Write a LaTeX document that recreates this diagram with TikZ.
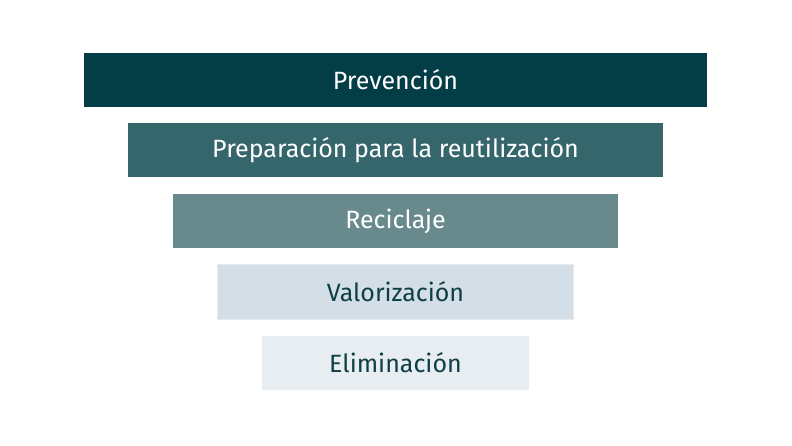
\documentclass[tikz,border=0pt]{standalone}
\usepackage{fontspec}
\setmainfont{Fira Sans}
\usepackage{tikz}

\definecolor{tealA}{HTML}{033E46}
\definecolor{tealB}{HTML}{35666B}
\definecolor{tealC}{HTML}{688A8D}
\definecolor{greyD}{HTML}{D3DEE7}
\definecolor{greyE}{HTML}{E8EDF2}
\definecolor{textdark}{HTML}{0F3F46}

\begin{document}
\begin{tikzpicture}[x=1pt,y=-1pt, % pixel grid, y down
	every node/.style={rectangle,inner sep=0pt,minimum height=54pt,font=\fontsize{25}{30}\selectfont}]
	\useasboundingbox[fill=white] (0,0) rectangle (792,446);

	\node[fill=tealA,text=white,minimum width=623.5pt] (prev) at (395.5,79.7)  {Prevención};
	\node[fill=tealB,text=white,minimum width=535pt]   (prep) at (395.5,150.5) {Preparación para la reutilización};
	\node[fill=tealC,text=white,minimum width=445pt]   (reci) at (395.5,221.3) {Reciclaje};
	\node[fill=greyD,draw=greyD!60!white,text=textdark,minimum width=356pt] (valo) at (395.5,291.7) {Valorización};
	\node[fill=greyE,text=textdark,minimum width=267pt] (elim) at (395.5,362.7) {Eliminación};
\end{tikzpicture}
\end{document}
